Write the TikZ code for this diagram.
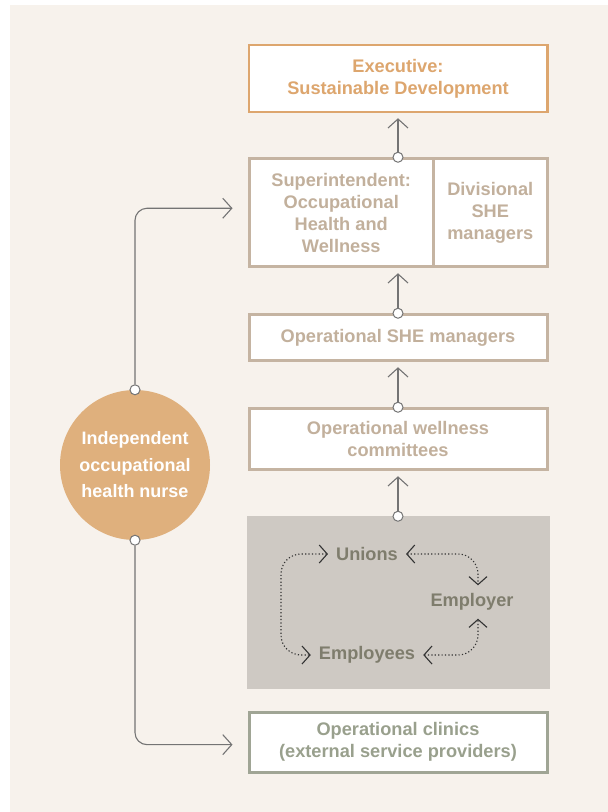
\documentclass[tikz,border=0pt]{standalone}
\usepackage{fontspec}
\setmainfont{Liberation Sans}
\usepackage{xcolor}
\usetikzlibrary{arrows.meta, positioning}

\definecolor{paper}{HTML}{F7F2EC}
\definecolor{execorange}{HTML}{DDA66E}
\definecolor{nurseorange}{HTML}{DFB07D}
\definecolor{taupe}{HTML}{C5B4A2}
\definecolor{taupetext}{HTML}{C2B09C}
\definecolor{forumgrey}{HTML}{CEC9C3}
\definecolor{forumtext}{HTML}{7F7D6D}
\definecolor{sage}{HTML}{A0A595}
\definecolor{sagetext}{HTML}{99A08D}
\definecolor{linkgrey}{HTML}{747474}

\begin{document}
\begin{tikzpicture}[x=1pt, y=-1pt, node distance=45pt, every node/.style={font=\fontsize{18.2}{22}\selectfont\bfseries, align=center}]
    \tikzstyle{tier} = [rectangle, draw=taupe, line width=3pt, fill=white, text=taupetext, minimum width=298pt, inner sep=0pt]
    \tikzstyle{actor} = [text=forumtext, inner sep=8pt]
    \tikzstyle{joint} = [circle, draw=linkgrey, fill=white, line width=1pt, minimum size=10pt, inner sep=0pt]
    \tikzstyle{link} = [draw=linkgrey, line width=1.1pt, -{Straight Barb[length=9pt, width=20pt]}]
    \tikzstyle{talk} = [draw=black!80, line width=1.1pt, dash pattern=on 1.2pt off 2.2pt, rounded corners=20pt, {Straight Barb[length=8pt, width=18pt]}-{Straight Barb[length=8pt, width=18pt]}]

    \useasboundingbox (0,0) rectangle (608,812);
    \fill[paper] (10,5) rectangle (608,812);

    % reporting line
    \node[tier, draw=execorange, line width=2.5pt, text=execorange, minimum width=298.5pt, minimum height=67pt] (exec) at (398,78.5) {Executive:\\Sustainable Development};
    \node[tier, minimum width=184.5pt, minimum height=108pt, below=44pt of exec.south west, anchor=north west] (supt) {Superintendent:\\Occupational\\Health and\\Wellness};
    \node[tier, minimum width=113.5pt, minimum height=108pt, right=-3pt of supt] (div) {Divisional\\SHE\\managers};
    \node[tier, minimum height=46pt, below=45pt of supt.south west, anchor=north west] (she) {Operational SHE managers};
    \node[tier, minimum height=61pt, below=of she] (wellness) {Operational wellness\\committees};
    \node[fill=forumgrey, minimum width=303pt, minimum height=173pt, inner sep=0pt, below=of wellness] (forum) {};
    \node[tier, draw=sage, text=sagetext, minimum height=60pt, below=21pt of forum] (clinics) {Operational clinics\\(external service providers)};

    % forum
    \node[actor] (unions) at (367,554) {Unions};
    \node[actor] (employer) at (472,602) {Employer};
    \node[actor] (employees) at (367,655) {Employees};
    \coordinate (loop) at (281,604);
    \draw[talk] (unions.west) -| (loop) |- (employees.west);
    \draw[talk] (unions.east) -| ([xshift=6pt]employer.north);
    \draw[talk] (employees.east) -| ([xshift=6pt]employer.south);

    % nurse
    \node[circle, fill=nurseorange, text=white, minimum size=150pt, inner sep=0pt, font=\fontsize{18}{26.5}\selectfont\bfseries] (nurse) at (135,465) {Independent\\occupational\\health nurse};

    \node[joint] (j1) at (exec.south |- supt.north) {};
    \node[joint] (j2) at (exec.south |- she.north) {};
    \node[joint] (j3) at (exec.south |- wellness.north) {};
    \node[joint] (j4) at (exec.south |- forum.north) {};
    \node[joint] (j5) at (nurse.north) {};
    \node[joint] (j6) at (nurse.south) {};

    \draw[link, shorten >=5pt] (j1) -- (j1 |- exec.south);
    \draw[link, shorten >=5pt] (j2) -- (j2 |- supt.south);
    \draw[link, shorten >=5pt] (j3) -- (j3 |- she.south);
    \draw[link, shorten >=5pt] (j4) -- (j4 |- wellness.south);
    \draw[link, rounded corners=12pt] (j5) |- ([xshift=-15pt, yshift=4.5pt]supt.west);
    \draw[link, rounded corners=12pt] (j6) |- ([xshift=-15pt, yshift=-2.5pt]clinics.west);
\end{tikzpicture}
\end{document}
